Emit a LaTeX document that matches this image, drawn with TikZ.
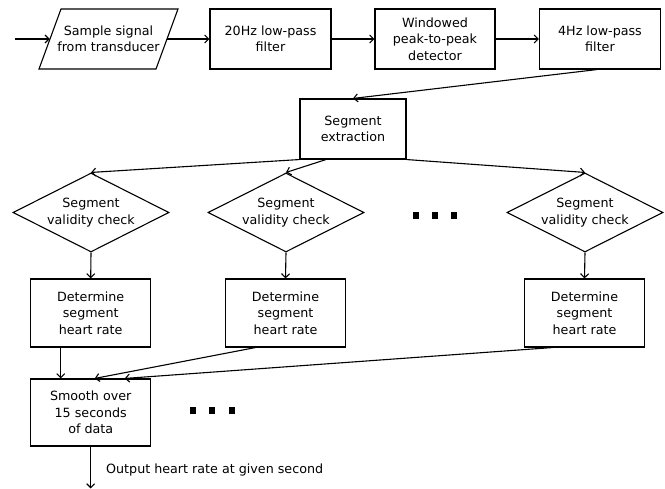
\documentclass[tikz,border=0pt]{standalone}
\usepackage{fontspec}
\setmainfont{DejaVu Sans}
\usetikzlibrary{shapes.geometric,arrows.meta}
\begin{document}
\begin{tikzpicture}[x=1pt,y=-1pt,
  every node/.style={font=\fontsize{12.7}{16.5}\selectfont, align=center, inner sep=0pt},
  box/.style={draw, line width=1.1pt, minimum width=121pt, minimum height=60pt},
  tallbox/.style={draw, line width=1.1pt, minimum width=120pt, minimum height=68pt},
  check/.style={draw, line width=1.1pt, diamond, aspect=1.97, minimum width=156pt, minimum height=79pt},
  dotsq/.style={fill=black, minimum width=6pt, minimum height=7pt},
  conn/.style={line width=1.1pt, -{Straight Barb[length=4pt,width=8pt,line width=1.1pt]}}]
\fill[white] (0,0) rectangle (665,489);
\useasboundingbox (0,0) rectangle (665,489);
% top row
\coordinate (in) at (15,39);
\node[minimum width=117pt, minimum height=60pt] (src) at (108.5,39) {Sample signal\\from transducer};
\draw[line width=1.1pt] (39,69) -- (61,9) -- (178,9) -- (156,69) -- cycle;
\node[box] (f20) at (270.5,39) {20Hz low-pass\\filter};
\node[box, minimum width=120pt] (win) at (435,39) {Windowed\\peak-to-peak\\detector};
\node[box] (f4) at (600,39) {4Hz low-pass\\filter};
% segment extraction
\node[box, minimum width=106pt] (seg) at (353,129) {Segment\\extraction};
% diamonds
\node[check] (d1) at (91,212.5) {Segment\\validity check};
\node[check] (d2) at (286,212.5) {Segment\\validity check};
\node[check] (d3) at (585,212.5) {Segment\\validity check};
\node[dotsq] (m1) at (416,216) {};
\node[dotsq] (m2) at (435,216) {};
\node[dotsq] (m3) at (454,216) {};
% determine
\node[tallbox] (h1) at (90.7,313) {Determine\\segment\\heart rate};
\node[tallbox] (h2) at (285.5,313) {Determine\\segment\\heart rate};
\node[tallbox] (h3) at (584.5,313) {Determine\\segment\\heart rate};
% smooth
\node[tallbox, minimum height=67pt] (sm) at (90.7,412.5) {Smooth over\\15 seconds\\of data};
\node[dotsq] (b1) at (193,411) {};
\node[dotsq] (b2) at (212,411) {};
\node[dotsq] (b3) at (232,411) {};
\coordinate (out) at (90.7,488.5);
\node[anchor=west] (lbl) at (106,470) {Output heart rate at given second};
% connectors
\draw[conn] (in) -- (src.west);
\draw[conn] (src.east) -- (f20.west);
\draw[conn] (f20.east) -- (win.west);
\draw[conn] (win.east) -- (f4.west);
\draw[conn] ([xshift=-3pt]f4.south) -- (seg.north);
\draw[conn] (seg.south west) -- (d1.north);
\draw[conn] ([xshift=-27pt]seg.south) -- (d2.north);
\draw[conn] (seg.south east) -- (d3.north);
\draw[conn] (d1.south) -- (h1.north);
\draw[conn] (d2.south) -- (h2.north);
\draw[conn] (d3.south) -- (h3.north);
\draw[conn] ([xshift=-30pt]h1.south) -- ([xshift=-30pt]sm.north);
\draw[conn] ([xshift=-30pt]h2.south) -- ([xshift=4pt]sm.north);
\draw[conn] ([xshift=-32pt]h3.south) -- ([xshift=34pt]sm.north);
\draw[conn] (sm.south) -- (out);
\end{tikzpicture}
\end{document}
